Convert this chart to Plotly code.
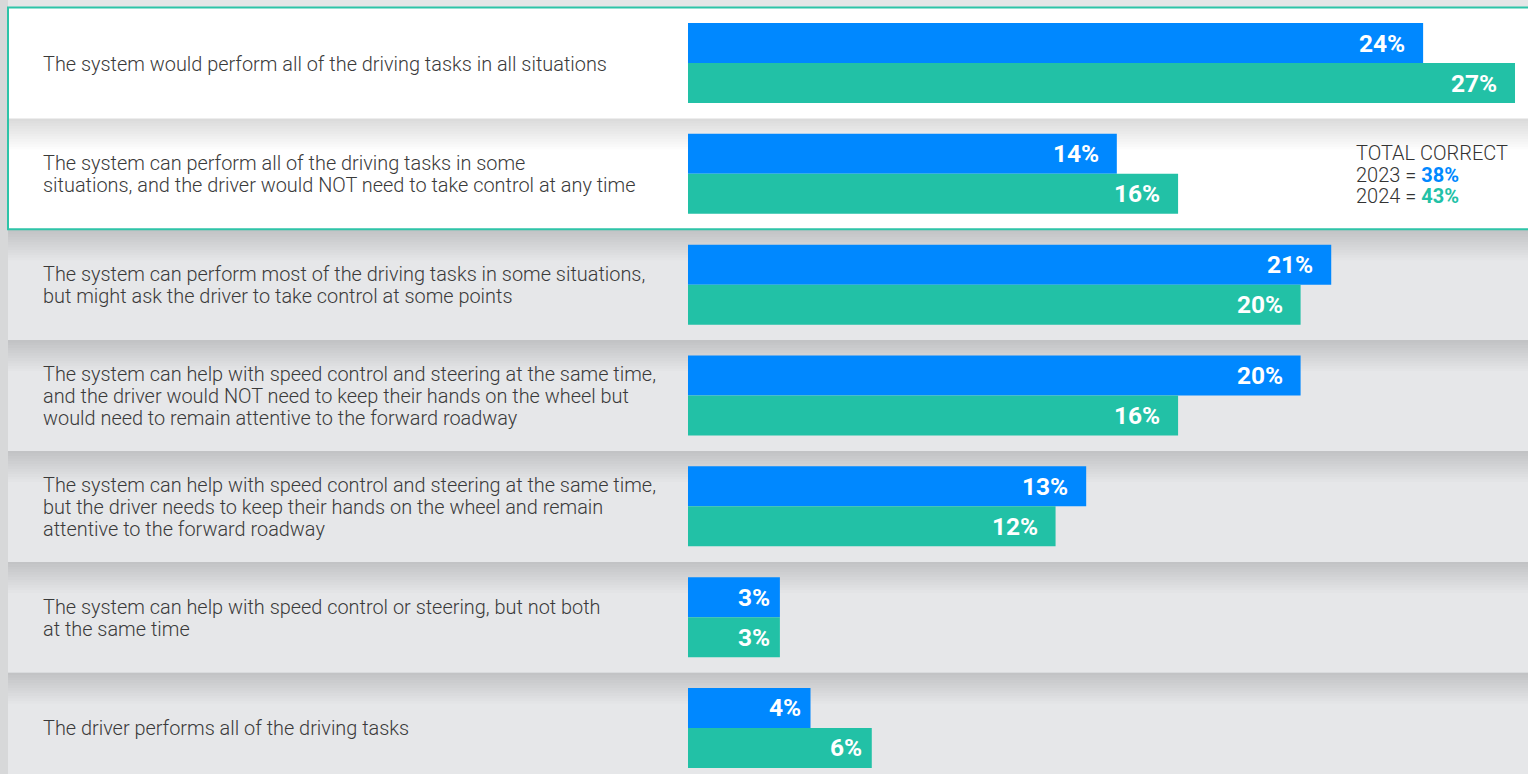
import plotly.graph_objects as go

categories = [
    ["The system would perform all of the driving tasks in all situations"],
    ["The system can perform all of the driving tasks in some",
     "situations, and the driver would NOT need to take control at any time"],
    ["The system can perform most of the driving tasks in some situations,",
     "but might ask the driver to take control at some points"],
    ["The system can help with speed control and steering at the same time,",
     "and the driver would NOT need to keep their hands on the wheel but",
     "would need to remain attentive to the forward roadway"],
    ["The system can help with speed control and steering at the same time,",
     "but the driver needs to keep their hands on the wheel and remain",
     "attentive to the forward roadway"],
    ["The system can help with speed control or steering, but not both",
     "at the same time"],
    ["The driver performs all of the driving tasks"],
]
values_2023 = [24, 14, 21, 20, 13, 3, 4]
values_2024 = [27, 16, 20, 16, 12, 3, 6]
series_names = ["2023", "2024"]
total_correct = {"2023": 38, "2024": 43}

BLUE = "#0088FF"
TEAL = "#22C1A6"
W, H = 1528, 774
PX = 110.83  # px per category unit
y_top = -63 / PX
y_bot = (H - 63) / PX
bw = 40 / PX
LINE = 22 / PX

pos = list(range(len(categories)))

fig = go.Figure()
fig.add_trace(go.Bar(
    y=pos, x=values_2023, orientation="h", name=series_names[0],
    marker=dict(color=BLUE, line=dict(width=0)), width=bw, offset=-bw,
    hoverinfo="x+name",
))
fig.add_trace(go.Bar(
    y=pos, x=values_2024, orientation="h", name=series_names[1],
    marker=dict(color=TEAL, line=dict(width=0)), width=bw, offset=0,
    hoverinfo="x+name",
))

shapes = []
x_left = 8 / W
shapes.append(dict(type="rect", xref="paper", yref="paper", x0=0, x1=x_left, y0=0, y1=1,
                   fillcolor="#d7d8d9", line=dict(width=0), layer="below"))
for i in pos:
    y0 = i - 0.5
    y1 = i + 0.5
    fill = "#ffffff" if i < 2 else "#e6e7e9"
    shapes.append(dict(type="rect", xref="paper", yref="y", x0=x_left, x1=1.01, y0=y0, y1=y1,
                       fillcolor=fill, line=dict(width=0), layer="below"))
    if i > 0:
        n = 12
        for k in range(n):
            shapes.append(dict(type="rect", xref="paper", yref="y", x0=x_left, x1=1.01,
                               y0=y0, y1=y0 + (k + 1) * 2.6 / PX,
                               fillcolor="rgba(0,0,0,0.011)", line=dict(width=0), layer="below"))
shapes.append(dict(type="rect", xref="paper", yref="y", x0=x_left, x1=1.01, y0=-0.5, y1=1.5,
                   fillcolor="rgba(0,0,0,0)", line=dict(color="#2ec4a8", width=2), layer="below"))

LABEL_FONT = dict(family="Roboto", size=19.9, color="#3a3a3a", weight=300)
annotations = []
for i, lines in enumerate(categories):
    n = len(lines)
    for j, ln in enumerate(lines):
        annotations.append(dict(xref="paper", yref="y", x=41 / W,
                                y=i + (j - (n - 1) / 2) * LINE + 1 / PX,
                                text=ln, showarrow=False, xanchor="left", yanchor="middle",
                                align="left", font=LABEL_FONT))

for vals, off in ((values_2023, -bw / 2), (values_2024, bw / 2)):
    for i, v in enumerate(vals):
        annotations.append(dict(xref="x", yref="y", x=v, y=i + off, text=f"{v}%", showarrow=False,
                                xanchor="right", yanchor="middle", xshift=-8 if v < 10 else -16,
                                font=dict(family="Roboto", size=24.5, color="white", weight="bold")))

total_lines = [
    "TOTAL CORRECT",
    f"{series_names[0]} = <b><span style='color:{BLUE}'>{total_correct['2023']}%</span></b>",
    f"{series_names[1]} = <b><span style='color:{TEAL}'>{total_correct['2024']}%</span></b>",
]
for j, ln in enumerate(total_lines):
    annotations.append(dict(xref="paper", yref="y", x=1354 / W, y=1 + (j - 1) * 21.5 / PX + 1 / PX,
                            xanchor="left", yanchor="middle", align="left", showarrow=False,
                            text=ln, font=dict(family="Roboto", size=20, color="#333333", weight=300)))

fig.update_layout(
    width=W, height=H,
    margin=dict(l=0, r=0, t=0, b=0),
    paper_bgcolor="#e5e6e7",
    plot_bgcolor="rgba(0,0,0,0)",
    barmode="overlay",
    showlegend=False,
    shapes=shapes,
    annotations=annotations,
    xaxis=dict(domain=[688 / W, 1], range=[0, 840 / 30.63], visible=False, fixedrange=True),
    yaxis=dict(range=[y_bot, y_top], visible=False, fixedrange=True),
)

fig.write_html("out.html", config={"displayModeBar": False})
